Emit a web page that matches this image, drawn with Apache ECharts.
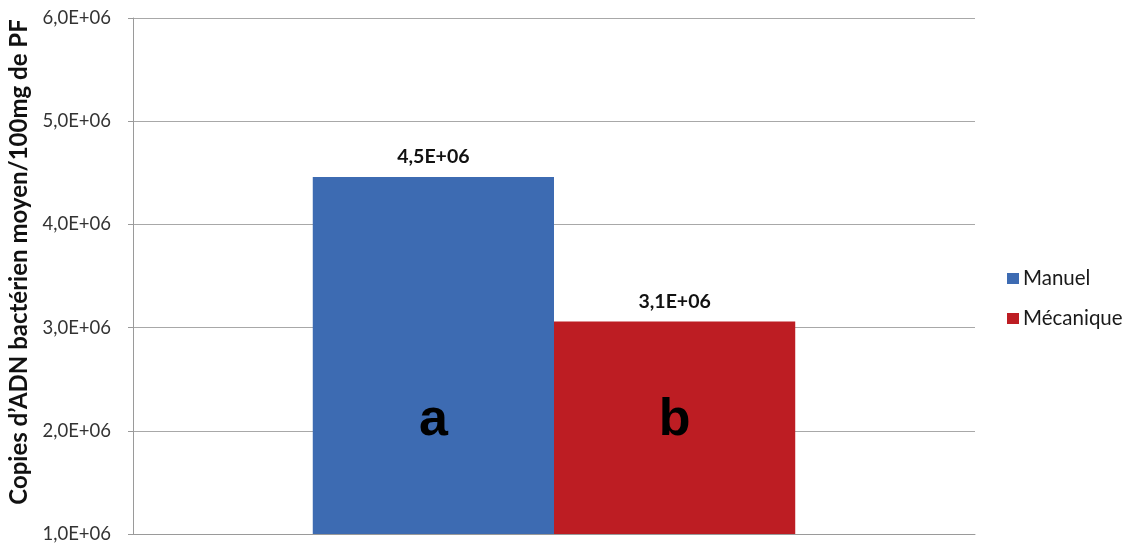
<!DOCTYPE html>
<html><head><meta charset="utf-8">
<script src="https://cdn.jsdelivr.net/npm/echarts@6/dist/echarts.min.js"></script>
<style>html,body{margin:0;padding:0;background:#fff}#c{width:1127px;height:544px}</style>
</head><body><div id="c"></div>
<script>
const categories = [''];
const seriesNames = ['Manuel', 'Mécanique'];
const manuel = [4.46e6];
const mecanique = [3.06e6];
const letters = ['a', 'b'];
const letterY = 2.1e6;
const yTicks = {min: 1e6, max: 6e6, interval: 1e6};
const colors = ['#3D6BB2', '#BD1D23'];

function fmt(v){ return (v/1e6).toFixed(1).replace('.', ',') + 'E+06'; }
const font = 'Lato, "Open Sans", sans-serif';
const letterFont = 'Liberation Sans, Arial, sans-serif';

function mkSeries(name, data, color, letter){
  return {
    name: name, type: 'bar', data: data, barGap: '0%', barCategoryGap: '42.7%',
    itemStyle: {color: color},
    label: {show: true, position: 'top', distance: 10, formatter: p => fmt(p.value),
      fontFamily: font, fontWeight: 'bold', fontSize: 19.5, color: '#111'},
    markPoint: {symbol: 'rect', symbolSize: 1, itemStyle: {color: 'rgba(0,0,0,0)'},
      label: {show: true, position: 'inside', formatter: letter, fontFamily: letterFont,
        fontWeight: 'bold', fontSize: 52, color: '#000'},
      data: [{coord: [0, letterY], value: letter}]}
  };
}

const chart = echarts.init(document.getElementById('c'));
chart.setOption({
  animation: false,
  backgroundColor: '#fff',
  color: colors,
  grid: {left: 133, right: 152, top: 18, bottom: 10, containLabel: false, outerBoundsMode: 'none'},
  legend: {orient: 'vertical', left: 1002, top: 263, itemWidth: 12, itemHeight: 11, itemGap: 19,
    icon: 'rect', textStyle: {fontFamily: font, fontSize: 20.5, color: '#1a1a1a', padding: [0,0,0,-1]},
    data: seriesNames},
  xAxis: {type: 'category', data: categories,
    axisLine: {lineStyle: {color: '#9a9a9a'}}, axisTick: {show: false}, axisLabel: {show: false}},
  yAxis: {type: 'value', min: yTicks.min, max: yTicks.max, interval: yTicks.interval,
    name: "Copies d\u2019ADN bactérien moyen/100mg de PF", nameLocation: 'middle', nameGap: 92,
    nameTextStyle: {fontFamily: font, fontWeight: 'bold', fontSize: 24, color: '#111', padding: [0, 0, 0, 28]},
    axisLine: {show: true, lineStyle: {color: '#9a9a9a'}},
    axisTick: {show: true, length: 5, lineStyle: {color: '#9a9a9a'}},
    splitLine: {lineStyle: {color: '#a8a8a8'}},
    axisLabel: {margin: 22, fontFamily: font, fontSize: 18.5, color: '#333', formatter: v => fmt(v)}},
  series: [mkSeries(seriesNames[0], manuel, colors[0], letters[0]),
           mkSeries(seriesNames[1], mecanique, colors[1], letters[1])]
});
</script></body></html>
